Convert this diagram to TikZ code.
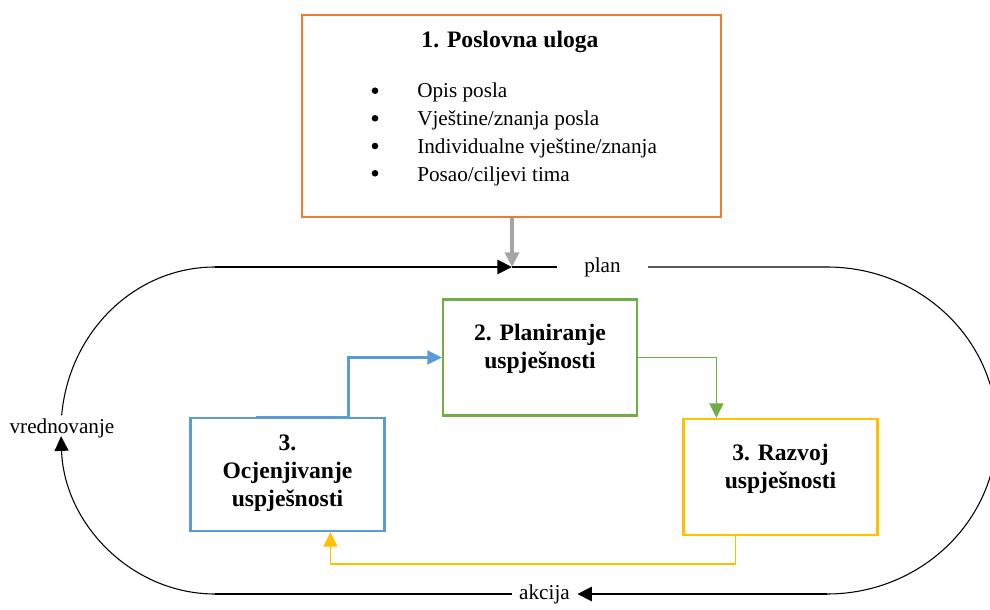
\documentclass[tikz,border=0pt]{standalone}
\usepackage{fontspec}
\setmainfont{Liberation Serif}
\usepackage{tikz}
\usetikzlibrary{arrows.meta, calc}

\definecolor{ulogaorange}{HTML}{ED7D31}
\definecolor{planzelena}{HTML}{70AD47}
\definecolor{razvojzuta}{HTML}{FFC000}
\definecolor{ocjenaplava}{HTML}{5B9BD5}
\definecolor{ulazsiva}{HTML}{A5A5A5}

\begin{document}
\begin{tikzpicture}[x=0.75pt, y=-0.75pt, >={Triangle[length=11pt, width=10.5pt]},
    kutija/.style={draw, line width=1.6pt, inner sep=0pt, minimum width=145.5pt, minimum height=87pt},
    naslov/.style={font=\fontsize{17.7}{21}\selectfont\bfseries, inner sep=0pt},
    tekst/.style={font=\fontsize{15.9}{21}\selectfont, inner sep=0pt},
    petlja/.style={line width=0.8pt},
    debela/.style={line width=2.2pt, ->},
    veza/.style={line width=1.1pt, ->}]
        % Ciklus upravljanja uspjesnoscu
        \useasboundingbox (0,0) rectangle (990,610);

        \node[kutija, draw=ulogaorange, line width=2pt, minimum width=314.25pt, minimum height=151.5pt] (uloga) at (511.5,116) {};
        \node[naslov, anchor=base] (uloga-naslov) at (510,48) {1. Poslovna uloga};
        \node[tekst, anchor=base west] (uloga-lista) at (417,98) {\begin{tabular}[t]{@{}l@{}}
            Opis posla\\
            Vještine/znanja posla\\
            Individualne vještine/znanja\\
            Posao/ciljevi tima
        \end{tabular}};
        \foreach \y in {90.7,118.3,146,173.3}
            \fill (375,\y) circle[radius=3.3];

        \node[kutija, draw=planzelena] (planiranje) at (540,357.5) {};
        \node[naslov, anchor=base] (planiranje-tekst) at (540,340) {\begin{tabular}[t]{@{}c@{}}2. Planiranje\\uspješnosti\end{tabular}};
        \node[kutija, draw=razvojzuta] (razvoj) at (780.5,477) {};
        \node[naslov, anchor=base] (razvoj-tekst) at (780.5,460) {\begin{tabular}[t]{@{}c@{}}3. Razvoj\\uspješnosti\end{tabular}};
        \node[kutija, draw=ocjenaplava, minimum height=84.75pt] (ocjenjivanje) at (287.5,474.5) {};
        \node[naslov, anchor=base] (ocjenjivanje-tekst) at (287.5,450) {\begin{tabular}[t]{@{}c@{}}3.\\Ocjenjivanje\\uspješnosti\end{tabular}};

        \coordinate (gore-lijevo) at (215,267);
        \coordinate (gore-desno) at (827,267);
        \coordinate (dolje-lijevo) at (215,594);
        \coordinate (dolje-desno) at (827,594);
        \coordinate (ulaz) at (512,267);
        \node[tekst, minimum width=68pt] (plan) at (602.5,267) {plan};
        \node[tekst, minimum width=48.75pt] (akcija) at (544.5,594) {akcija};
        \node[tekst] (vrednovanje) at (62,428) {vrednovanje};

        \draw[debela] (gore-lijevo) -- (ulaz);
        \draw[petlja] (ulaz) -- (plan.west);
        \draw[petlja] (plan.east) -- (gore-desno) arc[start angle=270, end angle=450, x radius=170, y radius=163.5];
        \draw[debela] (dolje-desno) -- (akcija.east);
        \draw[petlja] (akcija.west) -- (dolje-lijevo);
        \draw[petlja, ->] (dolje-lijevo) arc[start angle=90, end angle=178, x radius=154, y radius=163.5];
        \draw[petlja] (gore-lijevo) arc[start angle=270, end angle=185.3, x radius=154, y radius=163.5];

        \draw[line width=2.8pt, ulazsiva, ->] (uloga.south -| ulaz) -- (ulaz);
        \draw[veza, ocjenaplava, line width=1.8pt] ($(ocjenjivanje.north west)+(67,0)$) -- ++(92,0) |- (planiranje.west);
        \draw[veza, planzelena] (planiranje.east) -| ($(razvoj.north west)+(34,0)$);
        \draw[veza, razvojzuta] ($(razvoj.south west)+(53,0)$) -- ++(0,28) -| ($(ocjenjivanje.south west)+(141,0)$);
\end{tikzpicture}
\end{document}
